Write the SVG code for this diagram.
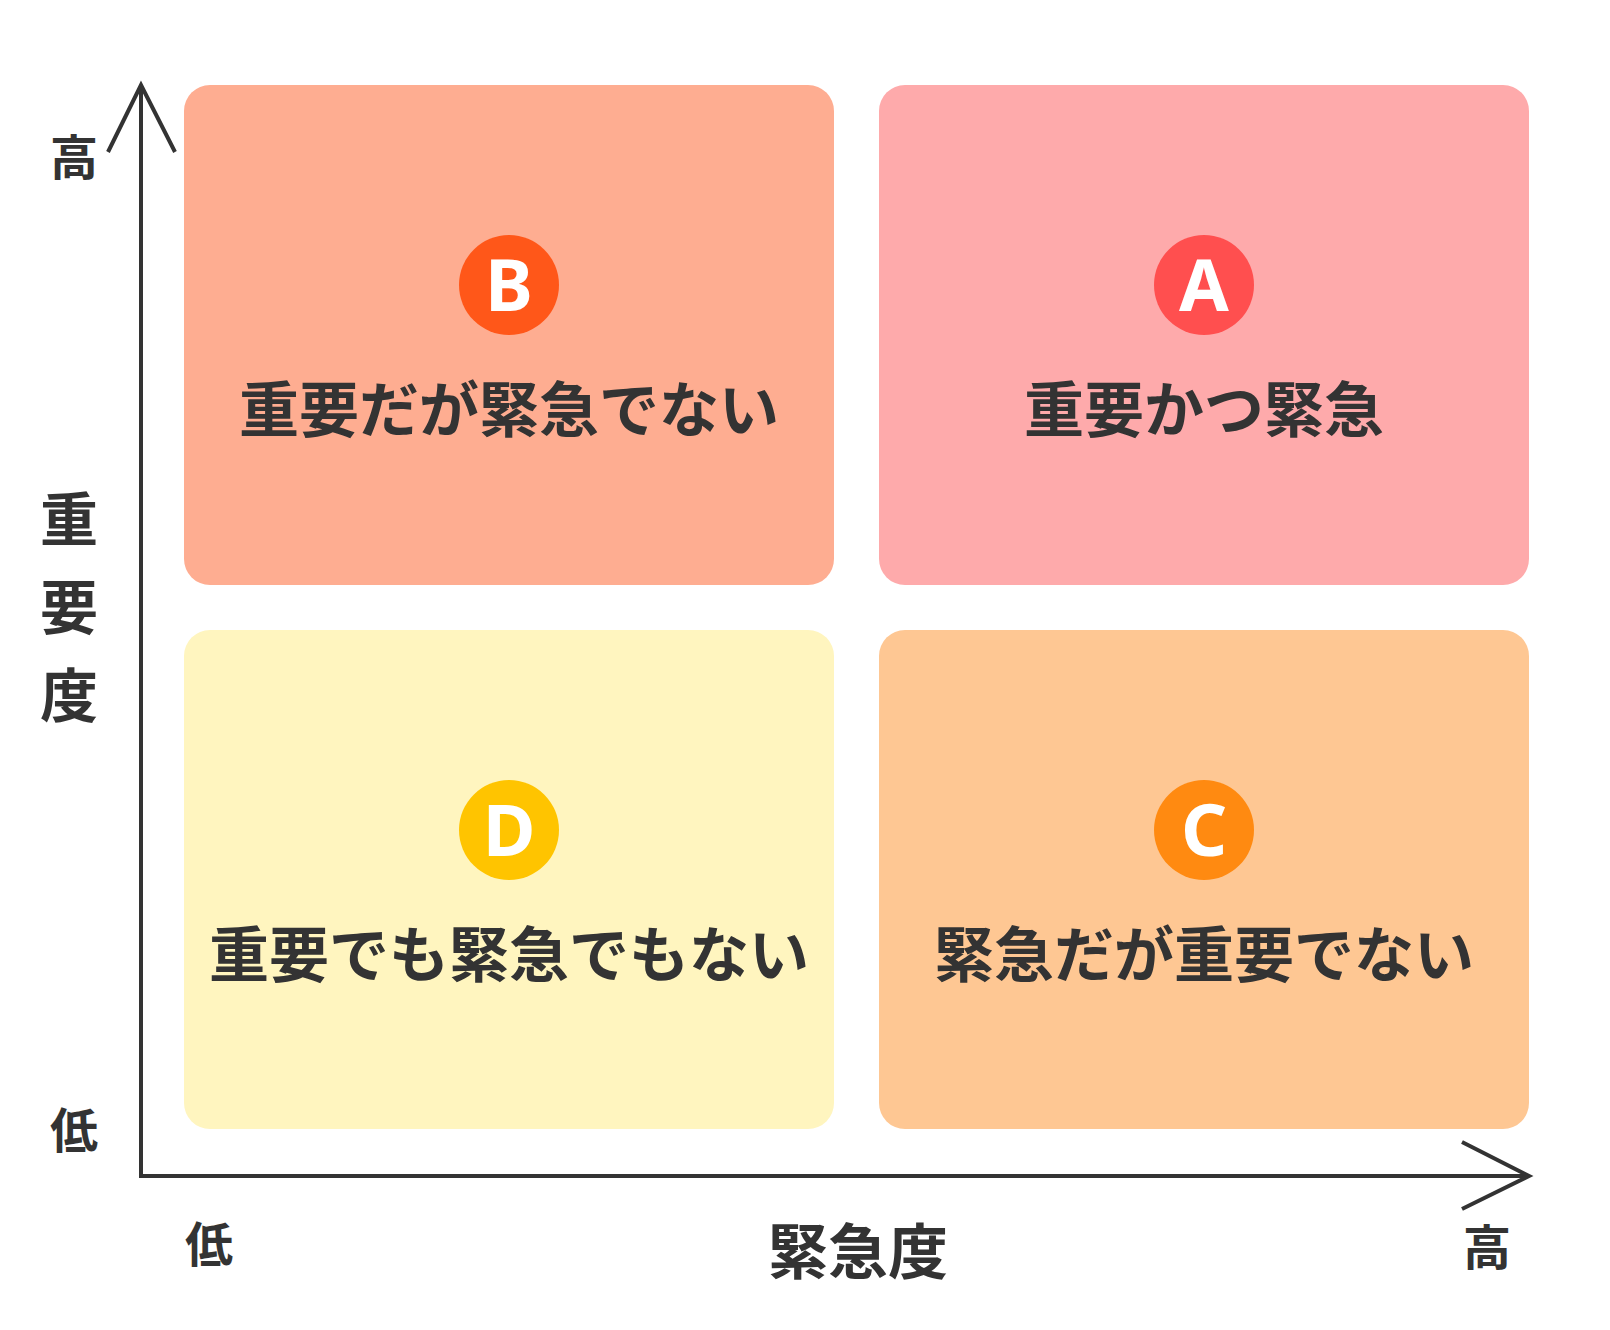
<svg xmlns="http://www.w3.org/2000/svg" width="1610" height="1330" viewBox="0 0 1610 1330">
<style>
.lbl{font-family:"Noto Sans CJK JP","Noto Sans",sans-serif;font-weight:700;fill:#333333;text-anchor:middle}
.big{font-size:60px}
.axis{font-size:58px}
.axisx{font-size:60px}
.tick{font-size:48px}
.let{font-family:"Noto Sans","DejaVu Sans",sans-serif;font-weight:700;font-size:72px;fill:#ffffff;text-anchor:middle}
.ax{fill:none;stroke:#333333;stroke-width:4}
</style>
<rect width="1610" height="1330" fill="#ffffff"/>
<g id="connectors">
<path class="ax" d="M141,85 L141,1176 L1529,1176"/>
<polyline class="ax" points="108,152 141,85 175,152"/>
<polyline class="ax" points="1462,1142 1529,1176 1462,1209"/>
</g>
<g id="quadrant-B">
<rect x="184" y="85" width="650" height="500" rx="26" fill="#FEAD91"/>
<circle cx="509" cy="285" r="50" fill="#FF5719"/>
<text class="let" x="509" y="311">B</text>
<text class="lbl big" x="509" y="432">重要だが緊急でない</text>
</g>
<g id="quadrant-A">
<rect x="879" y="85" width="650" height="500" rx="26" fill="#FEAAAB"/>
<circle cx="1204" cy="285" r="50" fill="#FF4F4F"/>
<text class="let" x="1204" y="311">A</text>
<text class="lbl big" x="1204" y="432">重要かつ緊急</text>
</g>
<g id="quadrant-D">
<rect x="184" y="630" width="650" height="499" rx="26" fill="#FFF5BF"/>
<circle cx="509" cy="830" r="50" fill="#FFC400"/>
<text class="let" x="509" y="856">D</text>
<text class="lbl big" x="509" y="977">重要でも緊急でもない</text>
</g>
<g id="quadrant-C">
<rect x="879" y="630" width="650" height="499" rx="26" fill="#FEC793"/>
<circle cx="1204" cy="830" r="50" fill="#FF8A11"/>
<text class="let" x="1204" y="856">C</text>
<text class="lbl big" x="1204" y="977">緊急だが重要でない</text>
</g>
<g id="y-axis-labels">
<text class="lbl tick" x="74" y="175">高</text>
<text class="lbl tick" x="74" y="1148">低</text>
<text class="lbl axis" x="69" y="541">重</text>
<text class="lbl axis" x="69" y="629">要</text>
<text class="lbl axis" x="69" y="717">度</text>
</g>
<g id="x-axis-labels">
<text class="lbl tick" x="209" y="1262">低</text>
<text class="lbl tick" x="1487" y="1265">高</text>
<text class="lbl axisx" x="858" y="1274">緊急度</text>
</g>
</svg>
